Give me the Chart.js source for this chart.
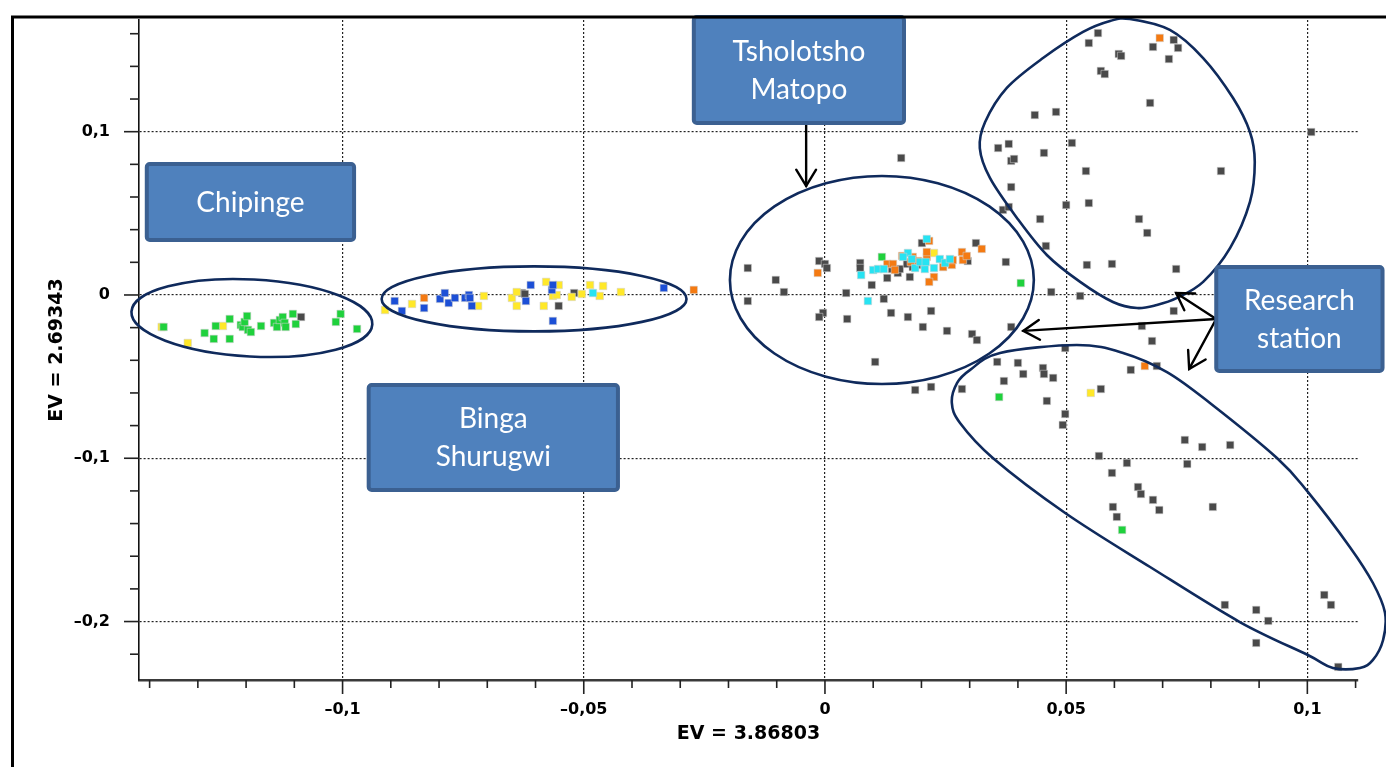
<!DOCTYPE html>
<html>
<head>
<meta charset="utf-8">
<title>EV scatter</title>
<script src="https://cdn.jsdelivr.net/npm/chart.js@4.4.1/dist/chart.umd.min.js"></script>
<style>
  html, body { margin: 0; padding: 0; background: #ffffff; }
  #wrap { position: relative; width: 1386px; height: 767px; }
  canvas { display: block; }
</style>
</head>
<body>
<div id="wrap"><canvas id="c" width="1386" height="767"></canvas></div>
<script>
// ---- axis titles and ranges ----
const xTitle = 'EV = 3.86803';
const yTitle = 'EV = 2.69343';
const xRange = [-0.1422, 0.1105];
const yRange = [-0.2358, 0.1684];
const xMajorStep = 0.05;
const yMajorStep = 0.1;

// ---- scores, one list of [x, y] pairs per colour group ----
const grayPts = [
  [-0.1086,-0.0135],
  [-0.0628,0.0012],[-0.0622,0.0006],[-0.0552,-0.0067],[-0.0520,0.0012],
  [-0.0160,0.0165],[-0.0102,0.0092],[-0.0085,0.0018],[-0.0160,-0.0037],[-0.0012,0.0208],
  [0.0000,0.0190],[0.0004,0.0165],[0.0044,0.0012],[-0.0004,-0.0110],[-0.0012,-0.0135],
  [0.0046,-0.0147],[0.0073,0.0196],[0.0073,0.0165],[0.0097,0.0061],[0.0122,-0.0024],
  [0.0137,-0.0110],[0.0129,0.0104],[0.0139,0.0159],[0.0151,0.0135],[0.0155,0.0159],
  [0.0176,0.0110],[0.0170,0.0190],[0.0182,0.0171],[0.0201,0.0318],[0.0253,0.0196],
  [0.0296,0.0208],[0.0313,0.0318],[0.0375,0.0202],[0.0220,-0.0098],[0.0172,-0.0135],
  [0.0203,-0.0196],[0.0253,-0.0220],[0.0305,-0.0239],[0.0315,-0.0276],[0.0386,-0.0196],
  [0.0104,-0.0410],[0.0158,0.0839],[0.0187,-0.0582],[0.0220,-0.0563],[0.0284,-0.0576],
  [0.0191,0.0184],
  [0.0566,0.1604],[0.0547,0.1543],[0.0723,0.1562],[0.0732,0.1513],[0.0680,0.1519],
  [0.0609,0.1476],[0.0614,0.1464],[0.0713,0.1445],[0.0572,0.1372],[0.0580,0.1353],
  [0.0674,0.1176],[0.0435,0.1102],[0.0479,0.1121],[0.0359,0.0900],[0.0381,0.0925],
  [0.0512,0.0931],[0.0454,0.0870],[0.0386,0.0821],[0.0392,0.0833],[0.0541,0.0759],
  [0.0821,0.0759],[0.0386,0.0661],[0.0369,0.0521],[0.0381,0.0539],[0.0500,0.0551],
  [0.0547,0.0563],[0.0446,0.0465],[0.0651,0.0465],[0.0668,0.0380],[0.0458,0.0300],
  [0.0543,0.0184],[0.0595,0.0190],[0.0728,0.0159],[0.0469,0.0018],[0.0529,-0.0006],
  [0.0723,-0.0098],[0.1008,0.0998],
  [0.0357,-0.0410],[0.0400,-0.0416],[0.0411,-0.0484],[0.0452,-0.0447],[0.0454,-0.0484],
  [0.0473,-0.0508],[0.0371,-0.0527],[0.0460,-0.0649],[0.0498,-0.0325],[0.0498,-0.0729],
  [0.0493,-0.0796],[0.0572,-0.0576],[0.0634,-0.0459],[0.0688,-0.0435],[0.0678,-0.0282],
  [0.0657,-0.0190],[0.0746,-0.0888],[0.0782,-0.0931],[0.0840,-0.0919],[0.0568,-0.0986],
  [0.0626,-0.1029],[0.0751,-0.1035],[0.0595,-0.1090],[0.0649,-0.1176],[0.0655,-0.1219],
  [0.0680,-0.1255],[0.0693,-0.1317],[0.0597,-0.1298],[0.0605,-0.1359],[0.0804,-0.1298],
  [0.0829,-0.1898],[0.0894,-0.1929],[0.0919,-0.1996],[0.0894,-0.2131],[0.1035,-0.1837],
  [0.1049,-0.1898],[0.1064,-0.2278]
];
const greenPts = [
  [-0.1371,-0.0196],[-0.1286,-0.0233],[-0.1267,-0.0269],[-0.1263,-0.0190],[-0.1234,-0.0147],
  [-0.1234,-0.0269],[-0.1211,-0.0184],[-0.1207,-0.0196],[-0.1203,-0.0165],[-0.1198,-0.0129],
  [-0.1196,-0.0214],[-0.1190,-0.0227],[-0.1169,-0.0190],[-0.1142,-0.0171],[-0.1136,-0.0196],
  [-0.1130,-0.0153],[-0.1124,-0.0135],[-0.1120,-0.0171],[-0.1118,-0.0196],[-0.1103,-0.0116],
  [-0.1097,-0.0178],[-0.1004,-0.0116],[-0.1014,-0.0165],[-0.0970,-0.0208],
  [0.0118,0.0233],[0.0406,0.0073],[0.0361,-0.0625],[0.0616,-0.1439]
];
const yellowPts = [
  [-0.1375,-0.0196],[-0.1321,-0.0294],[-0.1248,-0.0190],
  [-0.0912,-0.0092],[-0.0856,-0.0055],[-0.0719,-0.0067],[-0.0707,-0.0006],[-0.0649,-0.0018],
  [-0.0639,0.0018],[-0.0639,-0.0067],[-0.0578,0.0080],[-0.0583,-0.0067],[-0.0564,-0.0006],
  [-0.0556,0.0000],[-0.0552,0.0061],[-0.0525,-0.0012],[-0.0504,0.0006],[-0.0487,0.0061],
  [-0.0467,-0.0006],[-0.0460,0.0055],[-0.0423,0.0018],
  [0.0226,0.0257],[0.0551,-0.0600]
];
const bluePts = [
  [-0.0892,-0.0037],[-0.0877,-0.0098],[-0.0831,-0.0080],[-0.0798,-0.0024],[-0.0788,0.0012],
  [-0.0780,-0.0049],[-0.0767,-0.0018],[-0.0746,-0.0018],[-0.0738,0.0000],[-0.0736,-0.0018],
  [-0.0732,-0.0067],[-0.0620,-0.0037],[-0.0610,0.0061],[-0.0566,0.0031],[-0.0564,0.0061],
  [-0.0564,-0.0159],[-0.0334,0.0043]
];
const orangePts = [
  [-0.0831,-0.0018],[-0.0272,0.0031],[-0.0015,0.0135],[0.0129,0.0190],[0.0141,0.0190],
  [0.0145,0.0153],[0.0160,0.0239],[0.0182,0.0233],[0.0193,0.0208],[0.0211,0.0233],
  [0.0211,0.0263],[0.0216,0.0331],[0.0226,0.0110],[0.0216,0.0080],[0.0245,0.0171],
  [0.0263,0.0184],[0.0265,0.0214],[0.0284,0.0263],[0.0286,0.0214],[0.0294,0.0239],
  [0.0325,0.0282],[0.0178,0.0202],[0.0694,0.1574],[0.0663,-0.0435]
];
const cyanPts = [
  [-0.0481,0.0012],[0.0075,0.0122],[0.0089,-0.0037],[0.0100,0.0153],[0.0110,0.0159],
  [0.0122,0.0159],[0.0172,0.0257],[0.0162,0.0233],[0.0180,0.0220],[0.0187,0.0165],
  [0.0207,0.0159],[0.0197,0.0202],[0.0211,0.0343],[0.0226,0.0165],[0.0238,0.0220],
  [0.0249,0.0196],[0.0259,0.0220],[0.0209,0.0202]
];

// ---- callout boxes, group outlines and arrows (in axis units) ----
const boxes = [
  { x0: -0.1410, x1: -0.0972, y0: 0.0814, y1: 0.0325, lines: ['Chipinge'] },
  { x0: -0.0950, x1: -0.0425, y0: -0.0539, y1: -0.1206, lines: ['Binga', 'Shurugwi'] },
  { x0: -0.0276, x1: 0.0168, y0: 0.1714, y1: 0.1041, lines: ['Tsholotsho', 'Matopo'] },
  { x0: 0.0807, x1: 0.1160, y0: 0.0184, y1: -0.0478, lines: ['Research', 'station'] }
];
const ellipses = [
  { cx: -0.1188, cy: -0.0141, rx: 0.0250, ry: 0.0236, rot: 3 },
  { cx: -0.0603, cy: -0.0024, rx: 0.0316, ry: 0.0199, rot: 0 },
  { cx: 0.0118, cy: 0.0092, rx: 0.0315, ry: 0.0637, rot: 0 }
];
const outlineUpper = [
  [0.0632,0.1690],[0.0715,0.1623],[0.0784,0.1451],[0.0846,0.1206],[0.0881,0.0998],
  [0.0891,0.0814],[0.0881,0.0570],[0.0840,0.0288],[0.0784,0.0080],[0.0730,-0.0018],
  [0.0688,-0.0061],[0.0647,-0.0080],[0.0597,-0.0043],[0.0529,0.0080],[0.0460,0.0245],
  [0.0398,0.0472],[0.0342,0.0717],[0.0321,0.0900],[0.0332,0.1059],[0.0377,0.1268],
  [0.0452,0.1451],[0.0535,0.1611],[0.0591,0.1678]
];
const outlineLower = [
  [0.0363,-0.0355],[0.0522,-0.0306],[0.0618,-0.0355],[0.0709,-0.0472],[0.0798,-0.0661],
  [0.0937,-0.0998],[0.1001,-0.1206],[0.1088,-0.1543],[0.1136,-0.1764],[0.1161,-0.1947],
  [0.1157,-0.2113],[0.1136,-0.2235],[0.1109,-0.2284],[0.1053,-0.2284],[0.1001,-0.2205],
  [0.0860,-0.2003],[0.0674,-0.1666],[0.0498,-0.1335],[0.0348,-0.0998],[0.0280,-0.0784],
  [0.0263,-0.0661],[0.0274,-0.0539],[0.0301,-0.0459]
];
const arrows = [
  [[-0.0039, 0.1041], [-0.0039, 0.0668]],
  [[0.0811, -0.0147], [0.0411, -0.0220]],
  [[0.0811, -0.0147], [0.0728, 0.0012]],
  [[0.0811, -0.0147], [0.0755, -0.0453]]
];

const toXY = pts => pts.map(p => ({ x: p[0], y: p[1] }));

function fmtTick(v) {
  const r = Math.round(v * 100) / 100;
  if (r === 0) return '0';
  return (r < 0 ? '\u2013' : '') + String(Math.abs(r)).replace('.', ',');
}

function smoothClosed(ctx, pts) {
  const n = pts.length;
  ctx.beginPath();
  ctx.moveTo(pts[0][0], pts[0][1]);
  for (let i = 0; i < n; i++) {
    const p0 = pts[(i - 1 + n) % n], p1 = pts[i], p2 = pts[(i + 1) % n], p3 = pts[(i + 2) % n];
    ctx.bezierCurveTo(
      p1[0] + (p2[0] - p0[0]) / 6, p1[1] + (p2[1] - p0[1]) / 6,
      p2[0] - (p3[0] - p1[0]) / 6, p2[1] - (p3[1] - p1[1]) / 6,
      p2[0], p2[1]);
  }
  ctx.closePath();
}

// minor/major tick marks on both axes
const tickMarks = {
  id: 'tickMarks',
  afterDraw(chart) {
    const { ctx, chartArea, scales: { x, y } } = chart;
    ctx.save();
    ctx.strokeStyle = '#222';
    ctx.lineWidth = 1.6;
    for (let i = -14; i <= 11; i++) {
      const px = x.getPixelForValue(i / 100);
      const len = (i % 5 === 0) ? 14 : 8;
      ctx.beginPath();
      ctx.moveTo(px, chartArea.bottom);
      ctx.lineTo(px, chartArea.bottom + len);
      ctx.stroke();
    }
    for (let j = -11; j <= 8; j++) {
      const py = y.getPixelForValue(j * 0.02);
      const len = (j % 5 === 0) ? 15 : 9;
      ctx.beginPath();
      ctx.moveTo(chartArea.left, py);
      ctx.lineTo(chartArea.left - len, py);
      ctx.stroke();
    }
    ctx.restore();
  }
};

// outlines, callout boxes and arrows
const callouts = {
  id: 'callouts',
  afterDatasetsDraw(chart) {
    const { ctx, scales: { x, y } } = chart;
    const P = p => [x.getPixelForValue(p[0]), y.getPixelForValue(p[1])];
    ctx.save();
    ctx.strokeStyle = '#0f2a5c';
    ctx.lineWidth = 2.6;
    ellipses.forEach(e => {
      const cx = x.getPixelForValue(e.cx), cy = y.getPixelForValue(e.cy);
      const rx = Math.abs(x.getPixelForValue(e.cx + e.rx) - cx);
      const ry = Math.abs(y.getPixelForValue(e.cy + e.ry) - cy);
      ctx.beginPath();
      ctx.ellipse(cx, cy, rx, ry, e.rot * Math.PI / 180, 0, Math.PI * 2);
      ctx.stroke();
    });
    [outlineUpper, outlineLower].forEach(o => {
      smoothClosed(ctx, o.map(P));
      ctx.stroke();
    });

    // arrows
    ctx.strokeStyle = '#000';
    ctx.lineWidth = 2.4;
    ctx.lineCap = 'round';
    arrows.forEach(a => {
      const [sx, sy] = P(a[0]);
      const [ex, ey] = P(a[1]);
      const ang = Math.atan2(ey - sy, ex - sx);
      ctx.beginPath();
      ctx.moveTo(sx, sy);
      ctx.lineTo(ex, ey);
      ctx.stroke();
      const hl = 19, ha = 0.55;
      ctx.beginPath();
      ctx.moveTo(ex - hl * Math.cos(ang - ha), ey - hl * Math.sin(ang - ha));
      ctx.lineTo(ex, ey);
      ctx.lineTo(ex - hl * Math.cos(ang + ha), ey - hl * Math.sin(ang + ha));
      ctx.stroke();
    });

    // boxes
    boxes.forEach(b => {
      const [l, t] = P([b.x0, b.y0]);
      const [r, bt] = P([b.x1, b.y1]);
      ctx.beginPath();
      ctx.roundRect(l + 2, t + 2, r - l - 4, bt - t - 4, 3);
      ctx.fillStyle = '#4f81bd';
      ctx.fill();
      ctx.lineWidth = 4;
      ctx.strokeStyle = '#3b6091';
      ctx.stroke();
      ctx.fillStyle = '#ffffff';
      ctx.font = '28px Lato, "Open Sans", sans-serif';
      ctx.textAlign = 'center';
      ctx.textBaseline = 'middle';
      const cx = (l + r) / 2, cy = (t + bt) / 2;
      const lh = 38;
      const n = b.lines.length;
      b.lines.forEach((s, i) => {
        ctx.fillText(s, cx, cy + (i - (n - 1) / 2) * lh + 1);
      });
    });
    ctx.restore();
  }
};

// page frame
const frame = {
  id: 'frame',
  afterDraw(chart) {
    const { ctx } = chart;
    ctx.save();
    ctx.strokeStyle = '#000';
    ctx.lineWidth = 3;
    ctx.beginPath();
    ctx.moveTo(12.5, 767);
    ctx.lineTo(12.5, 17);
    ctx.lineTo(1386, 17);
    ctx.stroke();
    ctx.restore();
  }
};

const pointStyle = (color) => ({
  pointStyle: 'rect',
  pointRadius: 5.3,
  pointHoverRadius: 5.3,
  backgroundColor: color,
  borderColor: 'rgba(210,210,210,0.55)',
  borderWidth: 1
});

// keep the plot area exactly where the layout padding puts it
const fixScale = (s, size) => {
  if (s.isHorizontal()) { s.height = size; } else { s.width = size; }
  s.paddingTop = 0; s.paddingBottom = 0; s.paddingLeft = 0; s.paddingRight = 0;
};

new Chart(document.getElementById('c'), {
  type: 'scatter',
  data: {
    datasets: [
      { label: 'cyan', data: toXY(cyanPts), ...pointStyle('#27e3f2') },
      { label: 'orange', data: toXY(orangePts), ...pointStyle('#f47a12') },
      { label: 'blue', data: toXY(bluePts), ...pointStyle('#1c4fd6') },
      { label: 'green', data: toXY(greenPts), ...pointStyle('#1fd13c') },
      { label: 'yellow', data: toXY(yellowPts), ...pointStyle('#ffe829') },
      { label: 'gray', data: toXY(grayPts), ...pointStyle('#4a4a4a') }
    ]
  },
  options: {
    responsive: false,
    animation: false,
    devicePixelRatio: 1,
    layout: { padding: { left: 0, right: 28, top: 20, bottom: 13 } },
    plugins: { legend: { display: false }, tooltip: { enabled: false } },
    scales: {
      x: {
        type: 'linear',
        min: xRange[0], max: xRange[1],
        ticks: {
          stepSize: xMajorStep, includeBounds: false, autoSkip: false, maxRotation: 0,
          callback: fmtTick, color: '#000', padding: 20,
          font: { family: '"DejaVu Sans"', weight: 'bold', size: 16 }
        },
        grid: { color: '#222', lineWidth: 1.2, drawTicks: false },
        border: { display: true, color: '#3a3a3a', width: 2.4, dash: [2, 2] },
        title: {
          display: true, text: xTitle, color: '#000',
          font: { family: '"DejaVu Sans"', weight: 'bold', size: 19 },
          padding: { top: 0, bottom: 8.6 }
        },
        afterFit: s => fixScale(s, 74)
      },
      y: {
        type: 'linear',
        min: yRange[0], max: yRange[1],
        ticks: {
          stepSize: yMajorStep, includeBounds: false, autoSkip: false,
          callback: fmtTick, color: '#000', padding: 29,
          font: { family: '"DejaVu Sans"', weight: 'bold', size: 16 }
        },
        grid: { color: '#222', lineWidth: 1.2, drawTicks: false },
        border: { display: true, color: '#111', width: 1.6, dash: [2, 2] },
        title: {
          display: true, text: yTitle, color: '#000',
          font: { family: '"DejaVu Sans"', weight: 'bold', size: 19 },
          padding: { top: 45.6, bottom: 0 }
        },
        afterFit: s => fixScale(s, 139)
      }
    }
  },
  plugins: [tickMarks, callouts, frame]
});
</script>
</body>
</html>
